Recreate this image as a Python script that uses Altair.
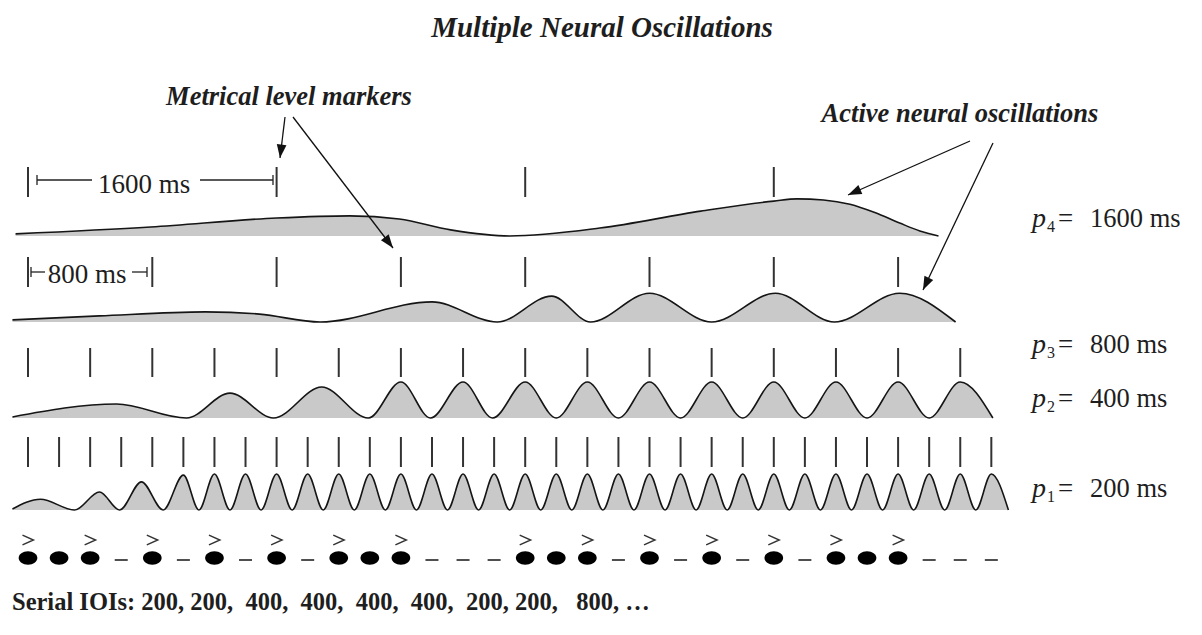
import math
import altair as alt
import pandas as pd

# ------------------------------------------------------------------ data
TITLE = "Multiple Neural Oscillations"
LABEL_MARKERS = "Metrical level markers"
LABEL_ACTIVE = "Active neural oscillations"
CAPTION = ("Serial IOIs: 200, 200,\u00a0 400,\u00a0 400,\u00a0 400,\u00a0 400,"
           "\u00a0 200, 200,\u00a0\u00a0 800, \u2026")
PERIOD_SUBS = ["4", "3", "2", "1"]
PERIOD_VALUES = ["1600 ms", "800 ms", "400 ms", "200 ms"]
SPAN_LABELS = ["1600 ms", "800 ms"]

# metrical level markers (ms)
MARKERS_P4 = [0, 1600, 3200, 4800]
MARKERS_P3 = [0, 800, 1600, 2400, 3200, 4000, 4800, 5600]
MARKERS_P2 = [0, 400, 800, 1200, 1600, 2000, 2400, 2800, 3200, 3600, 4000,
              4400, 4800, 5200, 5600, 6000]
MARKERS_P1 = [0, 200, 400, 600, 800, 1000, 1200, 1400, 1600, 1800, 2000, 2200,
              2400, 2600, 2800, 3000, 3200, 3400, 3600, 3800, 4000, 4200, 4400,
              4600, 4800, 5000, 5200, 5400, 5600, 5800, 6000, 6200]

# oscillator activity: key points (time in ms, relative amplitude)
P4_T = [-80, 790, 1600, 2070, 2390, 2720, 3100, 3680, 4330, 4800, 4950, 5120,
        5290, 5450, 5610, 5740, 5860]
P4_A = [0.06, 0.25, 0.50, 0.56, 0.47, 0.17, 0.0, 0.22, 0.69, 0.97, 1.03, 1.0,
        0.88, 0.65, 0.36, 0.14, 0.0]

P3_T = [-100, 460, 1140, 1490, 1880, 2600, 3020, 3370, 3620, 4000, 4400, 4810,
        5190, 5610, 5970]
P3_A = [0.06, 0.17, 0.28, 0.22, 0.0, 0.56, 0.0, 0.72, 0.0, 0.80, 0.0, 0.80,
        0.0, 0.80, 0.0]

P2_T = [-100, 570, 1020, 1300, 1580, 1890, 2190, 2400, 2590, 2800, 2990,
        3200, 3400, 3600, 3800, 4000, 4200, 4400, 4600, 4800, 5000, 5200,
        5400, 5600, 5800, 6000, 6210]
P2_A = [0.03, 0.39, 0.0, 0.69, 0.0, 0.86, 0.0, 1.0, 0.0, 1.0, 0.0,
        1.0, 0.0, 1.0, 0.0, 1.0, 0.0, 1.0, 0.0, 1.0, 0.0, 1.0,
        0.0, 1.0, 0.0, 1.0, 0.0]

P1_T = [-100, 80, 300, 460, 590, 730, 870,
        1000, 1100, 1200, 1300, 1400, 1500, 1600, 1700, 1800, 1900,
        2000, 2100, 2200, 2300, 2400, 2500, 2600, 2700, 2800, 2900,
        3000, 3100, 3200, 3300, 3400, 3500, 3600, 3700, 3800, 3900,
        4000, 4100, 4200, 4300, 4400, 4500, 4600, 4700, 4800, 4900,
        5000, 5100, 5200, 5300, 5400, 5500, 5600, 5700, 5800, 5900,
        6000, 6100, 6200, 6310]
P1_A = [0.03, 0.30, 0.0, 0.50, 0.0, 0.78, 0.0,
        0.97, 0.0, 1.0, 0.0, 1.0, 0.0, 1.0, 0.0, 1.0, 0.0,
        1.0, 0.0, 1.0, 0.0, 1.0, 0.0, 1.0, 0.0, 1.0, 0.0,
        1.0, 0.0, 1.0, 0.0, 1.0, 0.0, 1.0, 0.0, 1.0, 0.0,
        1.0, 0.0, 1.0, 0.0, 1.0, 0.0, 1.0, 0.0, 1.0, 0.0,
        1.0, 0.0, 1.0, 0.0, 1.0, 0.0, 1.0, 0.0, 1.0, 0.0,
        1.0, 0.0, 1.0, 0.0]

# rhythm: sounded onsets, silent positions, accents (ms)
ONSETS = [0, 200, 400, 800, 1200, 1600, 2000, 2200, 2400, 3200, 3400, 3600,
          4000, 4400, 4800, 5200, 5400, 5600]
RESTS = [600, 1000, 1400, 1800, 2600, 2800, 3000, 3800, 4200, 4600, 5000,
         5800, 6000, 6200]
ACCENTS = [0, 400, 800, 1200, 1600, 2000, 2400, 3200, 3600, 4000, 4400, 4800,
           5200, 5600]

# ------------------------------------------------------------------ layout
W, H = 1186, 619
PX_PER_MS = 248.6 / 1600.0
X_ORIGIN = 20.0
XS = alt.Scale(domain=[-X_ORIGIN / PX_PER_MS, (W - X_ORIGIN) / PX_PER_MS],
               nice=False, zero=False)
YS = alt.Scale(domain=[0, H], reverse=True, nice=False, zero=False)
FONT = "Liberation Serif"
INK = "#1e1e1e"

ROW_BASE = {"p4": 228, "p3": 314, "p2": 410, "p1": 502}
AMP_PX = 36
MARK_SPAN = {"p4": (159, 189), "p3": (249, 279), "p2": (340, 369), "p1": (429, 459)}

waves = [("p4", P4_T, P4_A), ("p3", P3_T, P3_A), ("p2", P2_T, P2_A), ("p1", P1_T, P1_A)]
wave_df = pd.concat(
    [pd.DataFrame({"osc": n, "t": t, "amp": a, "base": ROW_BASE[n]}) for n, t, a in waves],
    ignore_index=True)

wave_base = alt.Chart(wave_df).transform_calculate(
    y="datum.base - datum.amp * %d" % AMP_PX)

area = wave_base.mark_area(interpolate="monotone", color="#c9c9c9", opacity=1).encode(
    x=alt.X("t:Q", scale=XS, axis=None),
    y=alt.Y("y:Q", scale=YS, axis=None),
    y2="base:Q",
    detail="osc:N")
line = wave_base.mark_line(interpolate="monotone", color="#151515", strokeWidth=1.6).encode(
    x=alt.X("t:Q", scale=XS, axis=None),
    y=alt.Y("y:Q", scale=YS, axis=None),
    detail="osc:N")

marker_layers = []
for name, times in [("p4", MARKERS_P4), ("p3", MARKERS_P3), ("p2", MARKERS_P2), ("p1", MARKERS_P1)]:
    top, bot = MARK_SPAN[name]
    marker_layers.append(
        alt.Chart(pd.DataFrame({"t": times})).mark_rule(color="#333333", strokeWidth=2).encode(
            x=alt.X("t:Q", scale=XS, axis=None),
            y=alt.value(top), y2=alt.value(bot)))

ELLIPSE = "M-1,0A1,0.72,0,1,1,1,0A1,0.72,0,1,1,-1,0Z"
ACCENT = "M-1,-0.9L1,0L-1,0.9"
onsets = alt.Chart(pd.DataFrame({"t": ONSETS})).mark_point(
    shape=ELLIPSE, filled=True, size=350, color="#000000", opacity=1).encode(
    x=alt.X("t:Q", scale=XS, axis=None), y=alt.value(550))
rests = alt.Chart(pd.DataFrame({"t": RESTS})).mark_point(
    shape="stroke", filled=False, size=169, color="#222222", strokeWidth=1.6, opacity=1).encode(
    x=alt.X("t:Q", scale=XS, axis=None), y=alt.value(552))
accents = alt.Chart(pd.DataFrame({"t": ACCENTS})).mark_point(
    shape=ACCENT, filled=False, size=121, color="#333333", strokeWidth=1.4, opacity=1).encode(
    x=alt.X("t:Q", scale=XS, axis=None), y=alt.value(532))


def text_layer(rows, size, style="normal", weight="normal", align="left"):
    df = pd.DataFrame(rows, columns=["x", "y", "label"])
    return alt.Chart(df).mark_text(font=FONT, fontSize=size, fontStyle=style,
                                   fontWeight=weight, align=align, baseline="alphabetic",
                                   color=INK).encode(
        x=alt.X("x:Q", scale=None, axis=None),
        y=alt.Y("y:Q", scale=None, axis=None),
        text="label:N")


P_BASELINES = [219, 345, 399, 489]
title = text_layer([(594, 29, TITLE)], 29, style="italic", weight="bold", align="center")
headings = text_layer([(281, 97, LABEL_MARKERS), (952, 114, LABEL_ACTIVE)],
                      26.5, style="italic", weight="bold", align="center")
p_letters = text_layer([(1024, b, "p") for b in P_BASELINES], 28, style="italic")
p_subs = text_layer([(1039, b + 5, s) for b, s in zip(P_BASELINES, PERIOD_SUBS)], 16)
p_eq = text_layer([(1050, b, "=") for b in P_BASELINES], 27)
p_vals = text_layer([(1082, b, v) for b, v in zip(P_BASELINES, PERIOD_VALUES)], 26.5)
spans = text_layer([(136, 185, SPAN_LABELS[0]), (79, 275, SPAN_LABELS[1])], 27, align="center")
caption = text_layer([(4, 602, CAPTION)], 24.5, weight="bold")

# bracket lines and arrows (pixel layout)
seg_rows = [
    (29, 172, 84, 172), (29, 167, 29, 177), (192, 172, 265, 172), (265, 167, 265, 177),
    (23, 264, 37, 264), (23, 259, 23, 269), (124, 264, 139, 264), (139, 259, 139, 269),
]
segs = alt.Chart(pd.DataFrame(seg_rows, columns=["x", "y", "x2", "y2"])).mark_rule(
    color="#222222", strokeWidth=1.3).encode(
    x=alt.X("x:Q", scale=None, axis=None), y=alt.Y("y:Q", scale=None, axis=None),
    x2="x2:Q", y2="y2:Q")

arrow_rows = [(277, 109, 272, 150), (285, 109, 385, 240), (962, 133, 840, 187), (985, 135, 915, 282)]
arrow_df = pd.DataFrame(arrow_rows, columns=["x", "y", "x2", "y2"])
arrow_df["angle"] = [
    (math.degrees(math.atan2(x2 - x1, -(y2 - y1))) + 360) % 360 for x1, y1, x2, y2 in arrow_rows]
arrow_lines = alt.Chart(arrow_df).mark_rule(color="#111111", strokeWidth=1.3).encode(
    x=alt.X("x:Q", scale=None, axis=None), y=alt.Y("y:Q", scale=None, axis=None),
    x2="x2:Q", y2="y2:Q")
arrow_heads = alt.Chart(arrow_df).mark_point(
    shape="M0,0L-0.36,1L0.36,1Z", filled=True, size=729, color="#111111", opacity=1).encode(
    x=alt.X("x2:Q", scale=None, axis=None), y=alt.Y("y2:Q", scale=None, axis=None),
    angle=alt.Angle("angle:Q", scale=None))

chart = alt.layer(
    area, line, *marker_layers, onsets, rests, accents,
    title, headings, p_letters, p_subs, p_eq, p_vals, spans, caption,
    segs, arrow_lines, arrow_heads,
).resolve_scale(x="independent", y="independent").properties(
    width=W, height=H, padding=0, autosize=alt.AutoSizeParams(type="none"),
    background="white",
).configure_view(stroke=None)

chart.save("out.html", embed_options={"renderer": "svg", "actions": False})
